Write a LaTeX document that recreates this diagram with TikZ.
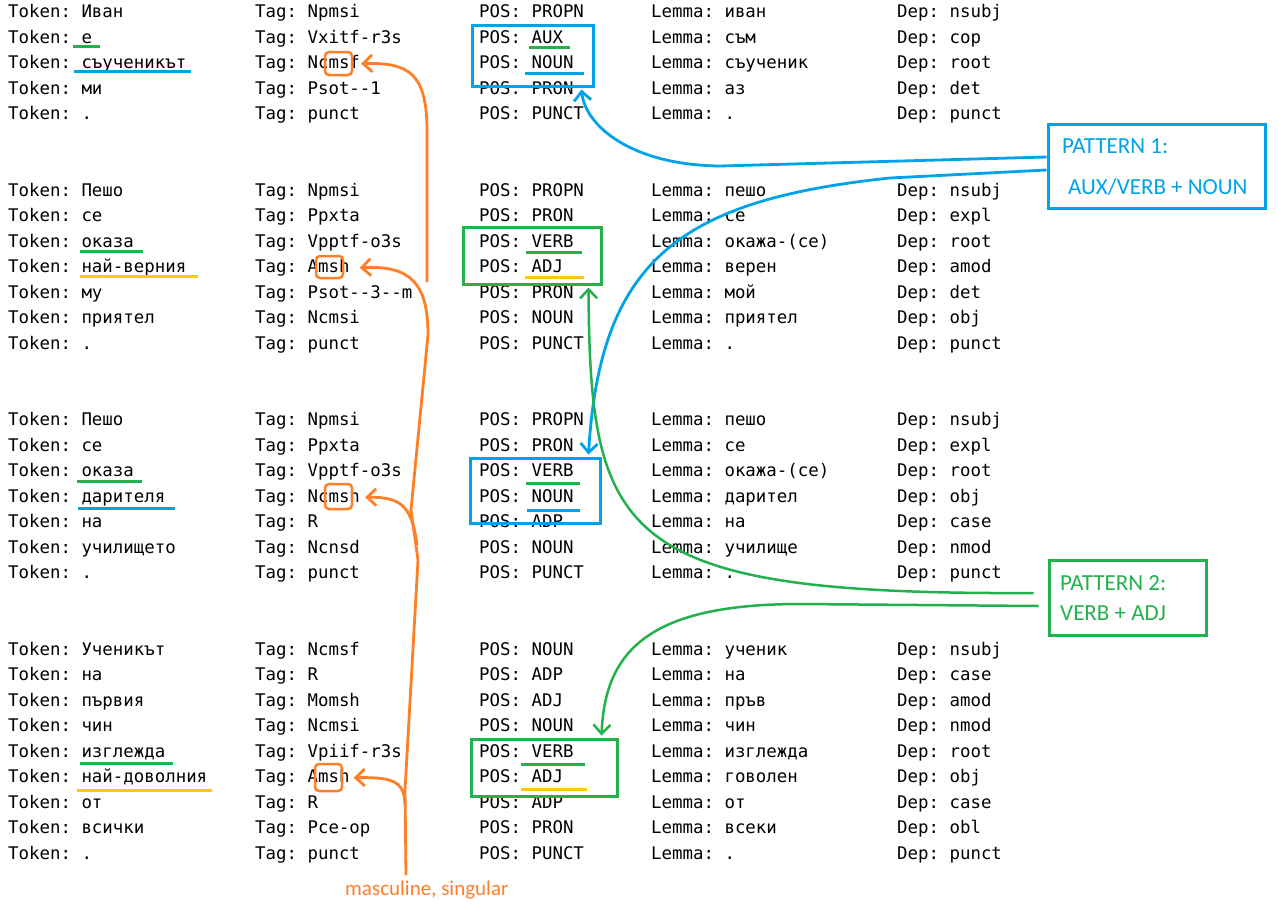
\documentclass[tikz,border=0pt]{standalone}
\usepackage{fontspec}
\setmonofont{DejaVu Sans Mono}
\newfontfamily\calib{Carlito}
\usetikzlibrary{arrows.meta}
\definecolor{ublue}{HTML}{00A2E8}
\definecolor{ugreen}{HTML}{22B14C}
\definecolor{uorange}{HTML}{FF7F27}
\definecolor{uyellow}{HTML}{FFC90E}
\newcommand\tokrow[6]{%
 \pgfmathsetmacro\yb{17.5+25.5*#1}%
 \node[cell] (tok#1) at (8,\yb) {Token: #2};%
 \node[cell] (tag#1) at (255,\yb) {Tag: #3};%
 \node[cell] (pos#1) at (479,\yb) {POS: #4};%
 \node[cell] (lem#1) at (651,\yb) {Lemma: #5};%
 \node[cell] (dep#1) at (897,\yb) {Dep: #6};%
}
\begin{document}
\begin{tikzpicture}[x=1pt,y=-1pt,
 cell/.style={anchor=base west, inner sep=0pt, font=\ttfamily\fontsize{17.4}{20}\selectfont},
 uline/.style={line width=3pt},
 hbox/.style={line width=3pt, inner sep=0pt},
 mbox/.style={draw=uorange, line width=2.5pt, rounded corners=4pt, inner sep=0pt},
 conn/.style={line width=2.8pt, line join=round, -{Straight Barb[length=9pt,width=17pt]}},
 ptext/.style={anchor=base west, inner sep=0pt, font=\calib\fontsize{23}{26}\selectfont},
]
\fill[white] (0,0) rectangle (1279,922);
\useasboundingbox (0,0) rectangle (1279,922);
% group 1
\tokrow{0}{Иван}{Npmsi}{PROPN}{иван}{nsubj}
\tokrow{1}{е}{Vxitf-r3s}{AUX}{съм}{cop}
\tokrow{2}{съученикът}{Ncmsf}{NOUN}{съученик}{root}
\tokrow{3}{ми}{Psot--1}{PRON}{аз}{det}
\tokrow{4}{.}{punct}{PUNCT}{.}{punct}
% group 2
\tokrow{7}{Пешо}{Npmsi}{PROPN}{пешо}{nsubj}
\tokrow{8}{се}{Ppxta}{PRON}{се}{expl}
\tokrow{9}{оказа}{Vpptf-o3s}{VERB}{окажа-(се)}{root}
\tokrow{10}{най-верния}{Amsh}{ADJ}{верен}{amod}
\tokrow{11}{му}{Psot--3--m}{PRON}{мой}{det}
\tokrow{12}{приятел}{Ncmsi}{NOUN}{приятел}{obj}
\tokrow{13}{.}{punct}{PUNCT}{.}{punct}
% group 3
\tokrow{16}{Пешо}{Npmsi}{PROPN}{пешо}{nsubj}
\tokrow{17}{се}{Ppxta}{PRON}{се}{expl}
\tokrow{18}{оказа}{Vpptf-o3s}{VERB}{окажа-(се)}{root}
\tokrow{19}{дарителя}{Ncmsh}{NOUN}{дарител}{obj}
\tokrow{20}{на}{R}{ADP}{на}{case}
\tokrow{21}{училището}{Ncnsd}{NOUN}{училище}{nmod}
\tokrow{22}{.}{punct}{PUNCT}{.}{punct}
% group 4
\tokrow{25}{Ученикът}{Ncmsf}{NOUN}{ученик}{nsubj}
\tokrow{26}{на}{R}{ADP}{на}{case}
\tokrow{27}{първия}{Momsh}{ADJ}{пръв}{amod}
\tokrow{28}{чин}{Ncmsi}{NOUN}{чин}{nmod}
\tokrow{29}{изглежда}{Vpiif-r3s}{VERB}{изглежда}{root}
\tokrow{30}{най-доволния}{Amsh}{ADJ}{говолен}{obj}
\tokrow{31}{от}{R}{ADP}{от}{case}
\tokrow{32}{всички}{Pce-op}{PRON}{всеки}{obl}
\tokrow{33}{.}{punct}{PUNCT}{.}{punct}

% underlines
\draw[uline, ugreen] (73,46.5) -- (100,46.5);
\draw[uline, ublue] (74,71) -- (191,71);
\draw[uline, ugreen] (529,47.5) -- (570,47.5);
\draw[uline, ublue] (525,73) -- (584,73);
\draw[uline, ugreen] (80,251) -- (143,251);
\draw[uline, uyellow] (80,276) -- (198,276);
\draw[uline, ugreen] (526,252) -- (582,252);
\draw[uline, uyellow] (525,277) -- (584,277);
\draw[uline, ugreen] (77,481) -- (142,481);
\draw[uline, ublue] (78,508) -- (175,508);
\draw[uline, ugreen] (526,483) -- (580,483);
\draw[uline, ublue] (527,510) -- (580,510);
\draw[uline, ugreen] (80,763) -- (173,763);
\draw[uline, uyellow] (77,790) -- (212,790);
\draw[uline, ugreen] (521,764) -- (585,764);
\draw[uline, uyellow] (521,789) -- (587,789);

% highlight boxes
\node[hbox, draw=ublue, minimum width=121pt, minimum height=61pt] (hb1) at (532.5,55.5) {};
\node[hbox, draw=ugreen, minimum width=138pt, minimum height=57pt] (hb2) at (532,255.5) {};
\node[hbox, draw=ublue, minimum width=130pt, minimum height=65pt] (hb3) at (535,490.5) {};
\node[hbox, draw=ugreen, minimum width=146pt, minimum height=57pt] (hb4) at (544,767.5) {};

% orange marks
\node[mbox, minimum width=27pt, minimum height=23pt] (m1) at (338.5,63.5) {};
\node[mbox, minimum width=27pt, minimum height=22pt] (m2) at (329.5,267) {};
\node[mbox, minimum width=27pt, minimum height=25pt] (m3) at (338.5,496.5) {};
\node[mbox, minimum width=27pt, minimum height=27pt] (m4) at (328.5,777.5) {};

% pattern boxes
\node[hbox, draw=ublue, minimum width=217pt, minimum height=84pt] (pat1) at (1156.5,166) {};
\node[ptext, text=ublue] (pat1a) at (1062,153) {PATTERN 1:};
\node[ptext, text=ublue] (pat1b) at (1068,194) {AUX/VERB + NOUN};
\node[hbox, draw=ugreen, minimum width=157pt, minimum height=75pt] (pat2) at (1127.5,597.5) {};
\node[ptext, text=ugreen] (pat2a) at (1060,590) {PATTERN 2:};
\node[ptext, text=ugreen] (pat2b) at (1060,620) {VERB + ADJ};

% blue connectors
\draw[conn, ublue] ([yshift=9pt]pat1.west) -- (720,166) .. controls (630,165) and (585,125) .. ([xshift=-13pt,yshift=-2pt]hb1.south east);
\draw[conn, ublue] ([yshift=-4pt]pat1.west) -- (890,178) .. controls (680,200) and (600,260) .. ([xshift=-13pt,yshift=2pt]hb3.north east);

% green connectors
\draw[conn, ugreen, line width=2.5pt] ([xshift=-14pt,yshift=4.5pt]pat2.west) .. controls (620,595) and (590,540) .. ([xshift=-14pt,yshift=-2pt]hb2.south east);
\draw[conn, ugreen, line width=2.5pt] ([xshift=-9pt,yshift=-8.5pt]pat2.west) -- (800,604) .. controls (650,604) and (605,650) .. ([xshift=-17pt,yshift=2pt]hb4.north east);

% orange connectors
\draw[conn, uorange] (427,282) -- (427,127) .. controls (426,75) and (410,62) .. ([xshift=1pt]tag2.east);
\draw[conn, uorange] (406,875) -- (405,790) -- (418,560) -- (411,510) -- (428,335) .. controls (428,285) and (412,265) .. ([xshift=10pt]tag10.east);
\draw[conn, uorange] (417,545) .. controls (412,505) and (400,497) .. ([xshift=5pt]tag19.east);
\draw[conn, uorange] (405,805) .. controls (405,780) and (390,777) .. ([xshift=4pt]tag30.east);
\node[anchor=base west, inner sep=0pt, text=uorange, font=\calib\fontsize{21}{24}\selectfont] (lbl) at (345,895) {masculine, singular};
\end{tikzpicture}
\end{document}
